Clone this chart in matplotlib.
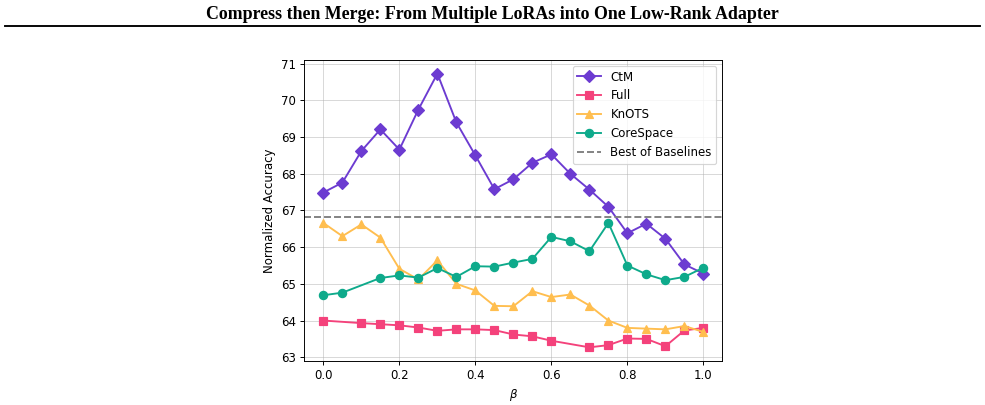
import matplotlib.pyplot as plt
from matplotlib.lines import Line2D

# beta values
beta = [0.0, 0.05, 0.1, 0.15, 0.2, 0.25, 0.3, 0.35, 0.4, 0.45, 0.5,
        0.55, 0.6, 0.65, 0.7, 0.75, 0.8, 0.85, 0.9, 0.95, 1.0]

ctm = [67.49, 67.76, 68.62, 69.21, 68.66, 69.75, 70.73, 69.40, 68.50, 67.58, 67.85,
       68.30, 68.53, 68.00, 67.57, 67.10, 66.38, 66.64, 66.23, 65.53, 65.28]

knots = [66.66, 66.30, 66.62, 66.26, 65.41, 65.12, 65.64, 65.00, 64.82, 64.40, 64.39,
         64.80, 64.64, 64.71, 64.41, 64.00, 63.80, 63.78, 63.76, 63.85, 63.69]

# CoreSpace has no point at 0.1
core_beta = [0.0, 0.05, 0.15, 0.2, 0.25, 0.3, 0.35, 0.4, 0.45, 0.5,
             0.55, 0.6, 0.65, 0.7, 0.75, 0.8, 0.85, 0.9, 0.95, 1.0]
core = [64.69, 64.76, 65.16, 65.23, 65.17, 65.43, 65.19, 65.48, 65.47, 65.58,
        65.68, 66.28, 66.16, 65.89, 66.66, 65.50, 65.26, 65.10, 65.19, 65.44]

# Full has no points at 0.05 and 0.65
full_beta = [0.0, 0.1, 0.15, 0.2, 0.25, 0.3, 0.35, 0.4, 0.45, 0.5,
             0.55, 0.6, 0.7, 0.75, 0.8, 0.85, 0.9, 0.95, 1.0]
full = [64.00, 63.93, 63.90, 63.87, 63.81, 63.72, 63.76, 63.76, 63.74, 63.62,
        63.57, 63.45, 63.27, 63.33, 63.51, 63.50, 63.30, 63.73, 63.80]

best_baseline = 66.82

DPI = 85
fig = plt.figure(figsize=(985 / DPI, 405 / DPI), dpi=DPI)

# paper header
fig.text(0.5, 0.965, "Compress then Merge: From Multiple LoRAs into One Low-Rank Adapter",
         ha='center', va='center', fontsize=15.2, fontweight='bold', family='Liberation Serif')
fig.add_artist(Line2D([0.005, 0.995], [0.936, 0.936], color='black', linewidth=1.6))

ax = fig.add_axes([0.309, 0.1086, 0.4244, 0.7434])

ax.plot(beta, ctm, marker='D', color='#6c3bd1', markersize=7, linewidth=1.6, label='CtM')
ax.plot(full_beta, full, marker='s', color='#f4427b', markersize=6.5, linewidth=1.6, label='Full')
ax.plot(beta, knots, marker='^', color='#ffbe4f', markersize=7.5, linewidth=1.6, label='KnOTS')
ax.plot(core_beta, core, marker='o', color='#0eaa8b', markersize=7, linewidth=1.6, label='CoreSpace')
ax.axhline(best_baseline, color='gray', linestyle='--', linewidth=1.6, label='Best of Baselines')

ax.set_xlabel(r'$\beta$')
ax.set_ylabel('Normalized Accuracy')
ax.set_yticks([63, 64, 65, 66, 67, 68, 69, 70, 71])
ax.grid(True, alpha=0.5)
ax.legend(loc='upper right')

plt.savefig('out.png', dpi=DPI)
